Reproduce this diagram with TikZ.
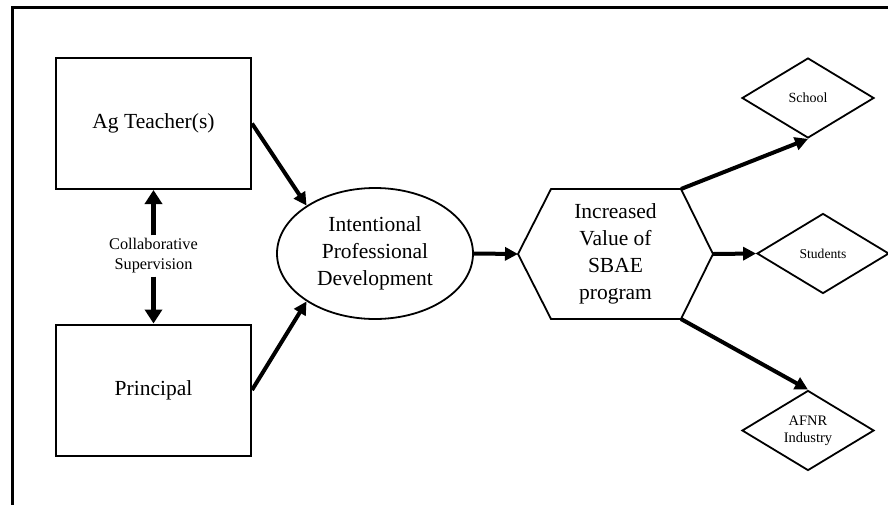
\documentclass[tikz,border=0pt]{standalone}
\usepackage{fontspec}
\setmainfont{Liberation Serif}
\usetikzlibrary{shapes.geometric,arrows.meta,calc}
\begin{document}
\begin{tikzpicture}[x=1pt,y=-1pt,
  box/.style={draw,line width=2pt,minimum width=195pt,minimum height=131pt,inner sep=0pt,
    font=\fontsize{21.5}{27}\selectfont},
  oval/.style={draw,ellipse,line width=1.8pt,minimum width=196pt,minimum height=131pt,inner sep=0pt,
    align=center,font=\fontsize{21.5}{27}\selectfont},
  dia/.style={draw,diamond,line width=1.8pt,minimum width=132pt,minimum height=80pt,inner sep=0pt,
    aspect=1.67,align=center},
  arr/.style={line width=4pt,-{Triangle[length=13pt,width=13pt]}},
  darr/.style={line width=5.5pt,-{Triangle[length=14pt,width=17pt]}},
  lbl/.style={align=center,inner sep=3pt,font=\fontsize{16.3}{20}\selectfont}]
\useasboundingbox (0,0) rectangle (888,504);
\fill[white] (0,0) rectangle (888,504);
\draw[line width=3pt] (12,510) -- (12,7) -- (895,7);
\node[box] (ag) at (153.5,123.5) {Ag Teacher(s)};
\node[box] (pr) at (153.5,390) {Principal};
\node[lbl] (cs) at (153.5,256) {Collaborative\\Supervision};
\draw[darr] (cs.north) -- (ag.south);
\draw[darr] (cs.south) -- (pr.north);
\node[oval] (ipd) at (375,253.5) {Intentional\\Professional\\Development};
\draw[arr] (ag.east) -- (ipd.145);
\draw[arr] (pr.east) -- (ipd.215);
\node[align=center,font=\fontsize{21.5}{27}\selectfont] (hex) at (615.5,254) {Increased\\Value of\\SBAE\\program};
\coordinate (hw) at (518,254);
\coordinate (hnw) at (551,189);
\coordinate (hne) at (681,189);
\coordinate (he) at (713,254);
\coordinate (hse) at (681,319);
\coordinate (hsw) at (551,319);
\draw[line width=1.8pt] (hw) -- (hnw) -- (hne) -- (he) -- (hse) -- (hsw) -- cycle;
\draw[arr] (ipd.east) -- (hw);
\node[dia,font=\fontsize{14}{17}\selectfont] (sc) at (808,98) {School};
\node[dia,font=\fontsize{13.6}{17}\selectfont] (st) at (823,253.5) {Students};
\node[dia,font=\fontsize{14.5}{17}\selectfont] (af) at (808,430.5) {AFNR\\Industry};
\draw[arr] (hne) -- (sc.south);
\draw[arr] (he) -- (st.west);
\draw[arr] (hse) -- (af.north);
\end{tikzpicture}
\end{document}
